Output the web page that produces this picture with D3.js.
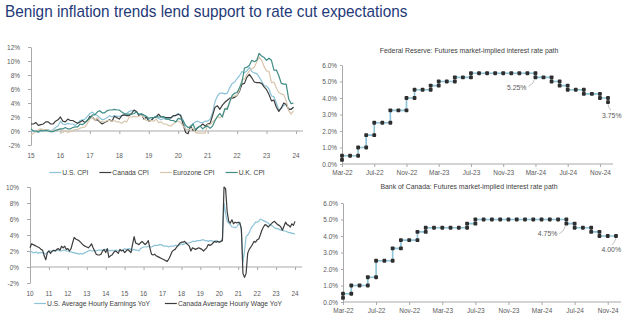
<!DOCTYPE html>
<html>
<head>
<meta charset="utf-8">
<script src="https://cdnjs.cloudflare.com/ajax/libs/d3/7.8.5/d3.min.js"></script>
<style>
body { margin: 0; background: #fff; }
text { font-family: "Liberation Sans", Arial, sans-serif; }
</style>
</head>
<body>
<div id="chart"></div>
<script>
// ---- data ----
var cpiYears = ["15", "16", "17", "18", "19", "20", "21", "22", "23", "24"];
var cpiStartYear = 2015;
var usCpi = [
  -0.1, 0.0, -0.1, -0.2, 0.0, 0.1, 0.2, 0.2, 0.0, 0.2, 0.5, 0.7,
  1.4, 1.0, 0.9, 1.1, 1.0, 1.0, 0.8, 1.1, 1.5, 1.6, 1.7, 2.1,
  2.5, 2.7, 2.4, 2.2, 1.9, 1.6, 1.7, 1.9, 2.2, 2.0, 2.2, 2.1,
  2.1, 2.2, 2.4, 2.5, 2.8, 2.9, 2.9, 2.7, 2.3, 2.5, 2.2, 1.9,
  1.6, 1.5, 1.9, 2.0, 1.8, 1.6, 1.8, 1.7, 1.7, 1.8, 2.1, 2.3,
  2.5, 2.3, 1.5, 0.3, 0.1, 0.6, 1.0, 1.3, 1.4, 1.2, 1.2, 1.4,
  1.4, 1.7, 2.6, 4.2, 5.0, 5.4, 5.4, 5.3, 5.4, 6.2, 6.8, 7.0,
  7.5, 7.9, 8.5, 8.3, 8.6, 9.1, 8.5, 8.3, 8.2, 7.7, 7.1, 6.5,
  6.4, 6.0, 5.0, 4.9, 4.0, 3.0, 3.2, 3.7, 3.7, 3.2, 3.1, 3.4
];
var canadaCpi = [
  1.0, 1.0, 1.2, 0.8, 0.9, 1.0, 1.3, 1.3, 1.0, 1.0, 1.4, 1.6,
  2.0, 1.4, 1.3, 1.7, 1.5, 1.5, 1.3, 1.1, 1.3, 1.5, 1.2, 1.5,
  2.1, 2.0, 1.6, 1.6, 1.3, 1.0, 1.2, 1.4, 1.6, 1.4, 2.1, 1.9,
  1.7, 2.2, 2.3, 2.2, 2.2, 2.5, 3.0, 2.8, 2.2, 2.4, 1.7, 2.0,
  1.4, 1.5, 1.9, 2.0, 2.4, 2.0, 2.0, 1.9, 1.9, 1.9, 2.2, 2.2,
  2.4, 2.2, 0.9, -0.2, -0.4, 0.7, 0.1, 0.1, 0.5, 0.7, 1.0, 0.7,
  1.0, 1.1, 2.2, 3.4, 3.6, 3.1, 3.7, 4.1, 4.4, 4.7, 4.7, 4.8,
  5.1, 5.7, 6.7, 6.8, 7.7, 8.1, 7.6, 7.0, 6.9, 6.9, 6.8, 6.3,
  5.9, 5.2, 4.3, 4.4, 3.4, 2.8, 3.3, 4.0, 3.8, 3.1, 3.1, 3.4
];
var eurozoneCpi = [
  -0.6, -0.3, -0.1, 0.2, 0.3, 0.2, 0.2, 0.1, -0.1, 0.1, 0.1, 0.2,
  0.3, -0.2, 0.0, -0.2, -0.1, 0.1, 0.2, 0.2, 0.4, 0.5, 0.6, 1.1,
  1.7, 2.0, 1.5, 1.9, 1.4, 1.3, 1.3, 1.5, 1.5, 1.4, 1.5, 1.3,
  1.3, 1.1, 1.4, 1.3, 2.0, 2.0, 2.1, 2.0, 2.1, 2.3, 1.9, 1.5,
  1.4, 1.5, 1.4, 1.7, 1.2, 1.3, 1.0, 1.0, 0.8, 0.7, 1.0, 1.3,
  1.4, 1.2, 0.7, 0.3, 0.1, 0.3, 0.4, -0.2, -0.3, -0.3, -0.3, -0.3,
  0.9, 0.9, 1.3, 1.6, 2.0, 1.9, 2.2, 3.0, 3.4, 4.1, 4.9, 5.0,
  5.1, 5.9, 7.4, 7.4, 8.1, 8.6, 8.9, 9.1, 9.9, 10.6, 10.1, 9.2,
  8.6, 8.5, 6.9, 7.0, 6.1, 5.5, 5.3, 5.2, 4.3, 2.9, 2.4, 2.9
];
var ukCpi = [
  0.3, 0.0, 0.0, -0.1, 0.1, 0.0, 0.1, 0.0, -0.1, -0.1, 0.1, 0.2,
  0.3, 0.3, 0.5, 0.3, 0.3, 0.5, 0.6, 0.6, 1.0, 0.9, 1.2, 1.6,
  1.8, 2.3, 2.3, 2.7, 2.9, 2.6, 2.6, 2.9, 3.0, 3.0, 3.1, 3.0,
  3.0, 2.7, 2.5, 2.4, 2.4, 2.4, 2.5, 2.7, 2.4, 2.4, 2.3, 2.1,
  1.8, 1.9, 1.9, 2.1, 2.0, 2.0, 2.1, 1.7, 1.7, 1.5, 1.5, 1.3,
  1.8, 1.7, 1.5, 0.8, 0.5, 0.6, 1.0, 0.2, 0.5, 0.7, 0.3, 0.6,
  0.7, 0.4, 0.7, 1.5, 2.1, 2.5, 2.0, 3.2, 3.1, 4.2, 5.1, 5.4,
  5.5, 6.2, 7.0, 9.0, 9.1, 9.4, 10.1, 9.9, 10.1, 11.1, 10.7, 10.5,
  10.1, 10.4, 10.1, 8.7, 8.7, 7.9, 6.8, 6.7, 6.7, 4.6, 3.9, 4.0
];

var wageYears = ["10", "11", "12", "13", "14", "15", "16", "17", "18", "19", "20", "21", "22", "23", "24"];
var wageStartYear = 2010;
var usWages = [
  2.0, 1.9, 1.8, 1.8, 1.9, 1.7, 1.8, 1.8, 1.8, 1.7, 1.6, 1.8,
  2.0, 2.0, 1.9, 2.0, 2.0, 2.1, 2.1, 2.0, 2.0, 2.1, 2.1, 2.0,
  2.0, 1.9, 1.9, 1.8, 1.8, 1.7, 1.7, 1.6, 1.7, 1.6, 1.7, 1.8,
  1.9, 2.0, 2.1, 2.0, 2.0, 2.1, 2.0, 2.1, 2.1, 2.1, 2.1, 2.1,
  2.2, 2.2, 2.1, 2.0, 2.1, 2.0, 2.1, 2.1, 2.0, 2.1, 2.1, 2.1,
  2.3, 2.2, 2.2, 2.3, 2.2, 2.1, 2.2, 2.1, 2.1, 2.0, 2.3, 2.4,
  2.5, 2.5, 2.5, 2.6, 2.5, 2.5, 2.6, 2.7, 2.7, 2.7, 2.8, 2.8,
  2.7, 2.6, 2.6, 2.6, 2.5, 2.6, 2.6, 2.6, 2.7, 2.7, 2.7, 2.8,
  2.9, 2.8, 2.9, 3.0, 3.0, 3.0, 3.1, 3.2, 3.2, 3.2, 3.3, 3.3,
  3.3, 3.4, 3.4, 3.3, 3.3, 3.2, 3.3, 3.3, 3.2, 3.2, 3.3, 3.2,
  3.1, 3.2, 3.6, 8.0, 6.7, 5.7, 5.5, 5.3, 5.0, 5.0, 4.9, 5.0,
  5.3, 5.6, 4.5, 0.6, 2.0, 3.8, 4.0, 4.3, 4.8, 5.1, 5.3, 5.6,
  5.6, 5.7, 6.0, 5.9, 5.8, 5.7, 5.6, 5.5, 5.3, 5.2, 5.1, 4.9,
  4.8, 4.8, 4.7, 4.6, 4.6, 4.5, 4.5, 4.4, 4.3, 4.3, 4.2, 4.2,
  4.1
];
var canadaWages = [
  2.4, 2.9, 2.8, 2.7, 2.6, 2.5, 2.4, 2.2, 2.1, 1.4, 0.9, 1.8,
  2.0, 1.7, 2.0, 2.1, 2.0, 2.2, 2.3, 2.1, 2.6, 2.4, 2.6, 2.2,
  2.3, 2.0, 2.3, 3.0, 3.7, 3.5, 3.4, 3.3, 3.1, 2.9, 2.7, 2.6,
  2.5, 2.4, 2.6, 2.9, 2.4, 2.0, 1.6, 1.5, 1.5, 1.6, 2.0, 2.2,
  1.8, 2.3, 1.2, 1.4, 1.5, 1.8, 2.0, 1.9, 1.7, 2.2, 2.0, 2.1,
  1.8, 2.0, 2.2, 2.0, 1.8, 2.8, 3.8, 3.0, 2.9, 2.8, 3.0, 3.2,
  3.0, 2.8, 3.0, 3.3, 2.4, 1.6, 1.5, 1.6, 1.4, 1.3, 1.2, 1.1,
  1.0, 0.9, 0.8, 0.7, 1.0, 1.4, 1.9, 2.1, 2.2, 2.5, 2.7, 3.0,
  3.1, 3.1, 3.2, 3.0, 2.8, 2.6, 2.0, 2.4, 2.3, 2.2, 2.3, 2.4,
  2.3, 2.2, 2.0, 2.2, 2.4, 2.8, 2.7, 2.8, 3.0, 3.2, 3.1, 3.2,
  3.1, 3.2, 3.3, 10.0, 9.8, 6.9, 5.7, 5.5, 5.9, 5.4, 5.6, 5.5,
  5.6, 5.5, 4.8, -0.8, -1.3, -0.8, 1.7, 2.2, 2.5, 2.8, 3.2, 3.1,
  3.4, 3.5, 4.0, 4.6, 5.0, 5.3, 5.2, 5.0, 5.2, 5.4, 5.6, 5.7,
  5.5, 5.3, 5.2, 5.0, 4.6, 5.1, 5.6, 5.3, 5.2, 5.0, 5.4, 5.2,
  5.7
];

var rateMonths = [
  "Mar-22", "Apr-22", "May-22", "Jun-22", "Jul-22", "Aug-22", "Sep-22", "Oct-22", "Nov-22", "Dec-22",
  "Jan-23", "Feb-23", "Mar-23", "Apr-23", "May-23", "Jun-23", "Jul-23", "Aug-23", "Sep-23", "Oct-23", "Nov-23", "Dec-23",
  "Jan-24", "Feb-24", "Mar-24", "Apr-24", "May-24", "Jun-24", "Jul-24", "Aug-24", "Sep-24", "Oct-24", "Nov-24", "Dec-24"
];
var rateTicks = ["Mar-22", "Jul-22", "Nov-22", "Mar-23", "Jul-23", "Nov-23", "Mar-24", "Jul-24", "Nov-24"];
var rateAxis = [0, 1, 2, 3, 4, 5, 6];
var fedStartRate = 0.25;
var fedPath = [
  0.5, 0.5, 1.0, 1.75, 2.5, 2.5, 3.25, 3.25, 4.0, 4.5,
  4.5, 4.75, 5.0, 5.0, 5.25, 5.25, 5.5, 5.5, 5.5, 5.5, 5.5, 5.5,
  5.5, 5.5, 5.25, 5.25, 5.0, 4.75, 4.5, 4.5, 4.25, 4.25, 4.0, 3.75
];
var bocStartRate = 0.25;
var bocPath = [
  0.5, 1.0, 1.0, 1.5, 2.5, 2.5, 3.25, 3.75, 3.75, 4.25,
  4.5, 4.5, 4.5, 4.5, 4.5, 4.75, 5.0, 5.0, 5.0, 5.0, 5.0, 5.0,
  5.0, 5.0, 5.0, 5.0, 5.0, 4.75, 4.5, 4.5, 4.25, 4.0, 4.0, 4.0
];
var fedNoteMonths = ["Mar-24", "Dec-24"];
var fedNoteValues = [5.25, 3.75];
var bocNoteMonths = ["Jun-24", "Dec-24"];
var bocNoteValues = [4.75, 4.0];

// ---- styles ----
var lightBlue = "#8cc3d8";
var darkGrey = "#3d3d3d";
var beige = "#d8c6ad";
var teal = "#3f8d85";
var axisGrey = "#a9a9a9";
var labelGrey = "#595959";
var squeezeBy = 0.86;

var svg = d3.select("#chart").append("svg")
  .attr("width", 624)
  .attr("height", 321);

// the reference text is set a bit narrow, so squash strings horizontally.
// returns the squashed width
function squeezeText(node, factor) {
  var w = node.getComputedTextLength() * factor;
  d3.select(node)
    .attr("textLength", w)
    .attr("lengthAdjust", "spacingAndGlyphs");
  return w;
}
function squeeze() {
  squeezeText(this, squeezeBy);
}

function styleAxis(g) {
  g.selectAll(".domain").attr("stroke", axisGrey);
  g.selectAll(".tick line").attr("stroke", axisGrey);
  g.selectAll(".tick text")
    .attr("fill", labelGrey)
    .style("font-size", "7.5px")
    .each(squeeze);
}

var title = svg.append("text")
  .attr("x", 5)
  .attr("y", 17)
  .attr("fill", "#1f3a78")
  .style("font-size", "17px")
  .text("Benign inflation trends lend support to rate cut expectations");
squeezeText(title.node(), 0.9);

function lineChart(box, startYear, yearLabels, yMin, yMax, yStep, series, legendY, legendCenter, legendGap) {
  var first = 2000 + (+yearLabels[0]);
  var last = 2000 + (+yearLabels[yearLabels.length - 1]);
  var x = d3.scaleLinear().domain([first, last]).range([box.left, box.right]);
  var y = d3.scaleLinear().domain([yMin, yMax]).range([box.bottom, box.top]);

  var yAxis = svg.append("g")
    .attr("transform", "translate(" + box.left + ",0)")
    .call(d3.axisLeft(y)
      .tickValues(d3.range(yMin, yMax + 0.001, yStep))
      .tickFormat(function(d) { return d + "%"; })
      .tickSize(3)
      .tickSizeOuter(0)
      .tickPadding(8));
  styleAxis(yAxis);

  var xAxis = svg.append("g")
    .attr("transform", "translate(0," + y(0) + ")")
    .call(d3.axisBottom(x)
      .tickValues(yearLabels.map(function(d) { return 2000 + (+d); }))
      .tickFormat("")
      .tickSize(3)
      .tickSizeOuter(0));
  xAxis.select(".domain").remove();
  xAxis.append("line")
    .attr("x1", box.left)
    .attr("x2", box.right + 7)
    .attr("stroke", axisGrey);
  styleAxis(xAxis);

  svg.append("g").selectAll("text")
    .data(yearLabels)
    .enter().append("text")
    .attr("x", function(d) { return x(2000 + (+d)); })
    .attr("y", box.bottom + 13)
    .attr("text-anchor", "middle")
    .attr("fill", labelGrey)
    .style("font-size", "7.5px")
    .text(function(d) { return d; })
    .each(squeeze);

  var line = d3.line()
    .x(function(d, i) { return x(startYear + i / 12); })
    .y(function(d) { return y(d); });

  series.forEach(function(s) {
    svg.append("path")
      .datum(s.values)
      .attr("fill", "none")
      .attr("stroke", s.color)
      .attr("stroke-width", 1.2)
      .attr("stroke-linejoin", "round")
      .attr("d", line);
  });

  // legend, laid out from the text widths and centred under the chart
  var legend = svg.append("g");
  var pos = 0;
  series.forEach(function(s) {
    var item = legend.append("g").attr("transform", "translate(" + pos + ",0)");
    item.append("line")
      .attr("x1", 0).attr("x2", 12)
      .attr("y1", -2.5).attr("y2", -2.5)
      .attr("stroke", s.color)
      .attr("stroke-width", 1.2);
    var t = item.append("text")
      .attr("x", 13)
      .attr("fill", "#404040")
      .style("font-size", "7.8px")
      .text(s.name);
    pos += 13 + squeezeText(t.node(), squeezeBy) + legendGap;
  });
  legend.attr("transform", "translate(" + (legendCenter - (pos - legendGap) / 2) + "," + legendY + ")");
}

lineChart({left: 31, right: 296, top: 47, bottom: 145}, cpiStartYear, cpiYears, -2, 12, 2, [
  {name: "U.S. CPI", values: usCpi, color: lightBlue},
  {name: "Canada CPI", values: canadaCpi, color: darkGrey},
  {name: "Eurozone CPI", values: eurozoneCpi, color: beige},
  {name: "U.K. CPI", values: ukCpi, color: teal}
], 175, 157, 11);

lineChart({left: 30, right: 295, top: 187, bottom: 283}, wageStartYear, wageYears, -2, 10, 2, [
  {name: "U.S. Average Hourly Earnings YoY", values: usWages, color: lightBlue},
  {name: "Canada Average Hourly Wage YoY", values: canadaWages, color: darkGrey}
], 306, 158, 15);

function rateChart(box, title, titleY, startRate, path, noteMonths, noteValues, notePlaces) {
  var x = d3.scaleLinear().domain([0, rateMonths.length - 1]).range([box.left, box.right]);
  var y = d3.scaleLinear().domain([0, 6]).range([box.bottom, box.top]);

  svg.append("text")
    .attr("x", 469)
    .attr("y", titleY)
    .attr("text-anchor", "middle")
    .attr("fill", "#404040")
    .style("font-size", "8px")
    .text(title)
    .each(squeeze);

  var yAxis = svg.append("g")
    .attr("transform", "translate(" + box.left + ",0)")
    .call(d3.axisLeft(y)
      .tickValues(rateAxis)
      .tickFormat(function(d) { return d3.format(".1f")(d) + "%"; })
      .tickSize(2)
      .tickSizeOuter(0)
      .tickPadding(3));
  styleAxis(yAxis);

  var xAxis = svg.append("g")
    .attr("transform", "translate(0," + box.bottom + ")")
    .call(d3.axisBottom(x)
      .tickValues(rateTicks.map(function(d) { return rateMonths.indexOf(d); }))
      .tickFormat(function(d) { return rateMonths[d]; })
      .tickSize(3)
      .tickSizeOuter(0)
      .tickPadding(3));
  xAxis.select(".domain").remove();
  xAxis.append("line")
    .attr("x1", box.left)
    .attr("x2", box.right + 5)
    .attr("stroke", axisGrey);
  styleAxis(xAxis);

  // corners of the step path: old level and new level at each move
  var pts = [];
  var prev = startRate;
  path.forEach(function(v, i) {
    if (v !== prev) pts.push([i, prev]);
    pts.push([i, v]);
    prev = v;
  });

  var line = d3.line()
    .x(function(d) { return x(d[0]); })
    .y(function(d) { return y(d[1]); });

  svg.append("path")
    .datum(pts)
    .attr("fill", "none")
    .attr("stroke", lightBlue)
    .attr("stroke-width", 1.6)
    .attr("d", line);

  svg.append("g").selectAll("rect")
    .data(pts)
    .enter().append("rect")
    .attr("x", function(d) { return x(d[0]) - 1.9; })
    .attr("y", function(d) { return y(d[1]) - 1.9; })
    .attr("width", 3.8)
    .attr("height", 3.8)
    .attr("rx", 0.8)
    .attr("fill", "#2e2e2e");

  noteMonths.forEach(function(m, k) {
    var px = x(rateMonths.indexOf(m));
    var py = y(noteValues[k]);
    var p = notePlaces[k];
    svg.append("path")
      .attr("d", "M" + (px + p.l1[0]) + "," + (py + p.l1[1]) +
        " Q" + (px + p.l2[0]) + "," + (py + p.l2[1]) + " " + (px + p.l3[0]) + "," + (py + p.l3[1]))
      .attr("fill", "none")
      .attr("stroke", "#b0b0b0")
      .attr("stroke-width", 0.8);
    svg.append("text")
      .attr("x", px + p.dx)
      .attr("y", py + p.dy)
      .attr("text-anchor", p.anchor)
      .attr("fill", labelGrey)
      .style("font-size", "8px")
      .text(d3.format(".2f")(noteValues[k]) + "%")
      .each(squeeze);
  });
}

rateChart({left: 342, right: 608, top: 65, bottom: 164},
  "Federal Reserve: Futures market-implied interest rate path", 53,
  fedStartRate, fedPath, fedNoteMonths, fedNoteValues, [
    {dx: -9, dy: 13, anchor: "end", l1: [-1, 2], l2: [-2, 7], l3: [-7, 9]},
    {dx: -6, dy: 15.5, anchor: "start", l1: [0, 2], l2: [0, 5], l3: [3, 8]}
  ]);

rateChart({left: 343, right: 616, top: 203, bottom: 302},
  "Bank of Canada: Futures market-implied interest rate path", 189,
  bocStartRate, bocPath, bocNoteMonths, bocNoteValues, [
    {dx: -9, dy: 12.5, anchor: "end", l1: [-1, 2], l2: [-2, 8], l3: [-7, 10]},
    {dx: 5, dy: 16, anchor: "end", l1: [0, 2], l2: [-1, 6], l3: [-4, 9]}
  ]);
</script>
</body>
</html>
